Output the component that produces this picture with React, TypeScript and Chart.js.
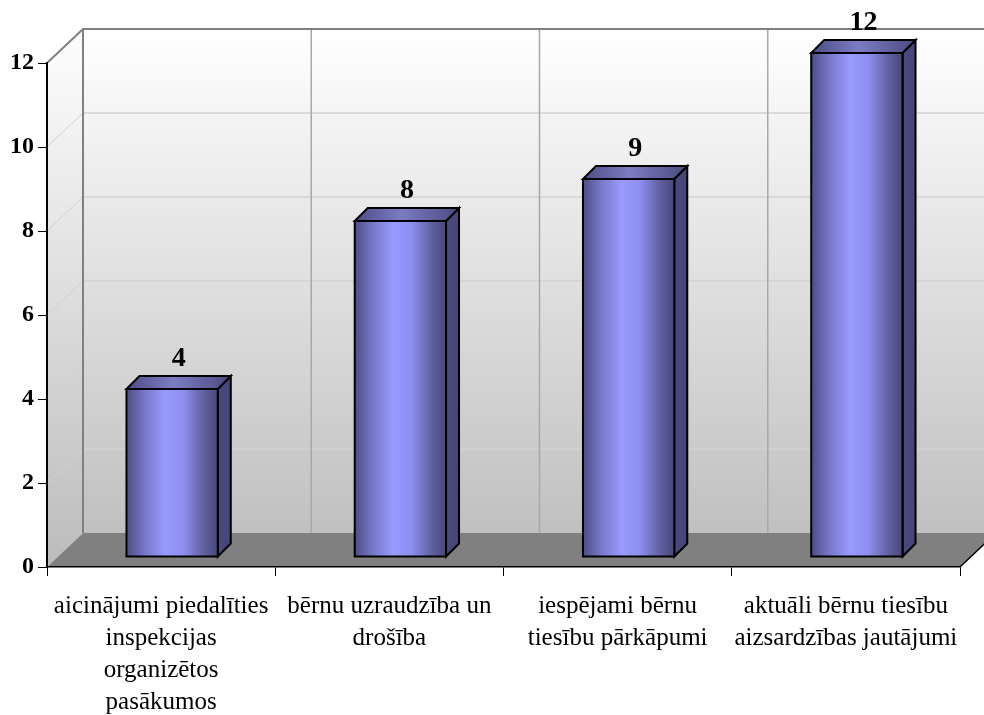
import React, { useEffect, useRef } from "react";
import { Chart, registerables } from "chart.js";

Chart.register(...registerables);

const categories: string[][] = [
  ["aicinājumi piedalīties", "inspekcijas", "organizētos", "pasākumos"],
  ["bērnu uzraudzība un", "drošība"],
  ["iespējami bērnu", "tiesību pārkāpumi"],
  ["aktuāli bērnu tiesību", "aizsardzības jautājumi"],
];
const values: number[] = [4, 8, 9, 12];
const yMin = 0;
const yMax = 12;
const yStep = 2;

const SERIF = '"Liberation Serif", "Times New Roman", serif';
const DEPTH_X = 36;
const DEPTH_Y = -34;
const BAR_OFF_X = 11;
const BAR_OFF_Y = -10;
const BAR_D = 13;

const threeD = {
  id: "threeD",
  beforeDraw(chart: any) {
    const { ctx, chartArea } = chart;
    const { left, right, top, bottom } = chartArea;
    const yS = chart.scales.y;
    const xS = chart.scales.x;
    ctx.save();
    const bl = left + DEPTH_X, br = right + DEPTH_X, bt = top + DEPTH_Y, bb = bottom + DEPTH_Y;
    let g = ctx.createLinearGradient(0, bt, 0, bb);
    g.addColorStop(0, "#ffffff");
    g.addColorStop(1, "#c0c0c0");
    ctx.fillStyle = g;
    ctx.fillRect(bl, bt, br - bl, bb - bt);
    g = ctx.createLinearGradient(0, top, 0, bottom);
    g.addColorStop(0, "#fafafa");
    g.addColorStop(1, "#bcbcbc");
    ctx.fillStyle = g;
    ctx.beginPath();
    ctx.moveTo(left, top);
    ctx.lineTo(bl, bt);
    ctx.lineTo(bl, bb);
    ctx.lineTo(left, bottom);
    ctx.closePath();
    ctx.fill();
    for (let v = yMin + yStep; v < yMax; v += yStep) {
      const py = yS.getPixelForValue(v);
      ctx.strokeStyle = "#d2d2d2";
      ctx.lineWidth = 1.5;
      ctx.beginPath();
      ctx.moveTo(bl, py + DEPTH_Y);
      ctx.lineTo(br, py + DEPTH_Y);
      ctx.stroke();
      ctx.lineWidth = 1;
      ctx.beginPath();
      ctx.moveTo(left, py);
      ctx.lineTo(bl, py + DEPTH_Y);
      ctx.stroke();
    }
    ctx.strokeStyle = "#a8a8a8";
    ctx.lineWidth = 1.5;
    for (let i = 1; i < categories.length; i++) {
      const px = (xS.getPixelForTick(i - 1) + xS.getPixelForTick(i)) / 2 + DEPTH_X;
      ctx.beginPath();
      ctx.moveTo(px, bt);
      ctx.lineTo(px, bb);
      ctx.stroke();
    }
    ctx.fillStyle = "#808080";
    ctx.beginPath();
    ctx.moveTo(left, bottom);
    ctx.lineTo(right, bottom);
    ctx.lineTo(br, bb);
    ctx.lineTo(bl, bb);
    ctx.closePath();
    ctx.fill();
    ctx.strokeStyle = "#808080";
    ctx.lineWidth = 2;
    ctx.beginPath();
    ctx.moveTo(left, top);
    ctx.lineTo(bl, bt);
    ctx.lineTo(br, bt);
    ctx.moveTo(bl, bt);
    ctx.lineTo(bl, bb);
    ctx.stroke();
    ctx.strokeStyle = "#000";
    ctx.lineWidth = 1.5;
    ctx.beginPath();
    ctx.moveTo(right, bottom);
    ctx.lineTo(br, bb);
    ctx.stroke();
    ctx.restore();
  },
  afterDatasetsDraw(chart: any) {
    const { ctx } = chart;
    const meta = chart.getDatasetMeta(0);
    ctx.save();
    meta.data.forEach((el: any, i: number) => {
      const p = el.getProps(["x", "y", "base", "width"], true);
      const fl = p.x - p.width / 2 + BAR_OFF_X;
      const fr = p.x + p.width / 2 + BAR_OFF_X;
      const ft = p.y + BAR_OFF_Y;
      const fb = p.base + BAR_OFF_Y;
      ctx.lineJoin = "miter";
      ctx.strokeStyle = "#000";
      ctx.lineWidth = 2;
      let g = ctx.createLinearGradient(fr, 0, fr + BAR_D, 0);
      g.addColorStop(0, "#4a4a80");
      g.addColorStop(1, "#45457a");
      ctx.fillStyle = g;
      ctx.beginPath();
      ctx.moveTo(fr, ft);
      ctx.lineTo(fr + BAR_D, ft - BAR_D);
      ctx.lineTo(fr + BAR_D, fb - BAR_D);
      ctx.lineTo(fr, fb);
      ctx.closePath();
      ctx.fill();
      ctx.stroke();
      g = ctx.createLinearGradient(fl, 0, fr + BAR_D, 0);
      g.addColorStop(0, "#4c4c84");
      g.addColorStop(0.45, "#7c7cc4");
      g.addColorStop(1, "#4a4a7e");
      ctx.fillStyle = g;
      ctx.beginPath();
      ctx.moveTo(fl, ft);
      ctx.lineTo(fl + BAR_D, ft - BAR_D);
      ctx.lineTo(fr + BAR_D, ft - BAR_D);
      ctx.lineTo(fr, ft);
      ctx.closePath();
      ctx.fill();
      ctx.stroke();
      g = ctx.createLinearGradient(fl, 0, fr, 0);
      g.addColorStop(0, "#4d4d86");
      g.addColorStop(0.2, "#7878c8");
      g.addColorStop(0.42, "#9999ff");
      g.addColorStop(0.62, "#8f8fef");
      g.addColorStop(0.85, "#5f5fa0");
      g.addColorStop(1, "#48487a");
      ctx.fillStyle = g;
      ctx.fillRect(fl, ft, fr - fl, fb - ft);
      ctx.strokeRect(fl, ft, fr - fl, fb - ft);
      ctx.fillStyle = "#000";
      ctx.font = `bold 28px ${SERIF}`;
      ctx.textAlign = "center";
      ctx.textBaseline = "alphabetic";
      ctx.fillText(String(values[i]), (fl + fr) / 2 + BAR_D / 2, ft - BAR_D - 10);
    });
    ctx.restore();
  },
};

export default function App() {
  const ref = useRef<HTMLCanvasElement>(null);
  useEffect(() => {
    if (!ref.current) return;
    const chart = new Chart(ref.current, {
      type: "bar",
      data: {
        labels: categories as any,
        datasets: [
          {
            data: values,
            backgroundColor: "rgba(0,0,0,0)",
            borderWidth: 0,
            barPercentage: 0.4,
            categoryPercentage: 1,
          },
        ],
      },
      options: {
        animation: false,
        responsive: false,
        devicePixelRatio: 1,
        layout: { padding: { top: 63, right: 24, left: 0, bottom: 0 } },
        plugins: { legend: { display: false }, tooltip: { enabled: false } },
        scales: {
          x: {
            grid: { offset: true, drawOnChartArea: false, drawTicks: true, tickLength: 9, color: "#000", lineWidth: 1 },
            border: { display: true, color: "#000", width: 1.5 },
            ticks: {
              font: { family: SERIF, size: 25, lineHeight: 1.28 },
              color: "#000",
              padding: 14,
              maxRotation: 0,
              autoSkip: false,
            },
            afterFit: (s: any) => {
              s.height = 148;
            },
          },
          y: {
            min: yMin,
            max: yMax,
            ticks: { stepSize: yStep, font: { family: SERIF, size: 24, weight: "bold" }, color: "#000", padding: 4 },
            grid: { drawOnChartArea: false, drawTicks: true, tickLength: 9, color: "#000", lineWidth: 1 },
            border: { display: true, color: "#000", width: 2 },
            afterFit: (s: any) => {
              s.width = 47;
            },
          },
        },
      },
      plugins: [threeD],
    });
    return () => chart.destroy();
  }, []);
  return (
    <div style={{ position: "absolute", left: 0, top: 0, width: 984, height: 715, background: "#fff" }}>
      <canvas ref={ref} width={984} height={715} />
    </div>
  );
}
